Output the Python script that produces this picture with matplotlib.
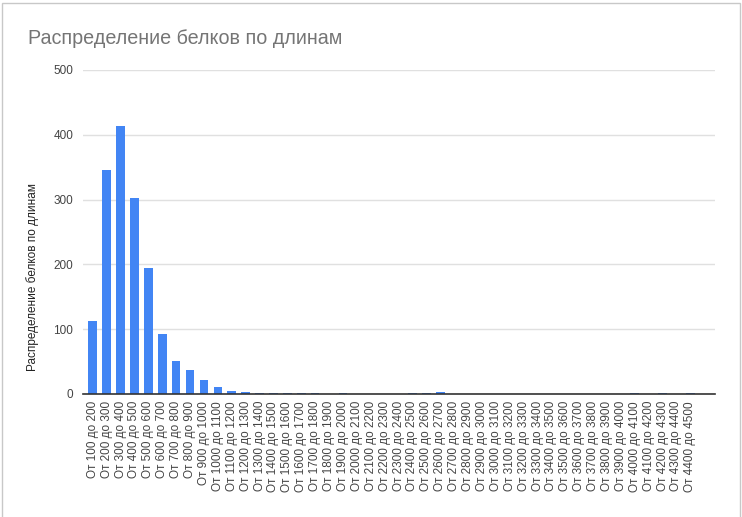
import matplotlib.pyplot as plt
from matplotlib.patches import Rectangle

plt.rcParams['font.family'] = ['Liberation Sans', 'DejaVu Sans']

# bins of protein length, 100 wide, from 100 to 4500
bin_starts = list(range(100, 4500, 100))
labels = ['От %d до %d' % (a, a + 100) for a in bin_starts]
counts = [113, 346, 414, 302, 194, 93, 51, 37, 21, 11,
          4, 3, 2, 2, 1, 1, 1, 0, 1, 0,
          0, 0, 0, 1, 1, 3, 0, 0, 0, 0,
          0, 0, 0, 0, 0, 0, 0, 0, 0, 1,
          0, 1, 0, 2]
title = 'Распределение белков по длинам'
y_ticks = [0, 100, 200, 300, 400, 500]

W, H = 742, 517
fig = plt.figure(figsize=(W / 100, H / 100), dpi=100)
fig.patch.set_facecolor('white')

# chart card border
fig.patches.append(Rectangle((2 / W, -0.01), 738 / W, (H - 3) / H + 0.01,
                             transform=fig.transFigure, fill=False,
                             edgecolor='#c8c8c8', linewidth=1.0))

ax = fig.add_axes([83 / W, (H - 394) / H, 632 / W, 324 / H])
x = list(range(len(counts)))
ax.bar(x, counts, width=0.62, color='#4285F4', zorder=3)

ax.set_xlim(-0.70, 44.77)
ax.set_ylim(0, 500)
ax.set_yticks(y_ticks)
ax.set_yticklabels([str(v) for v in y_ticks], fontsize=8.5, color='#444444')
ax.set_xticks(x)
ax.set_xticklabels(labels, rotation=90, fontsize=8.5, color='#444444')
ax.tick_params(axis='both', length=0)
ax.tick_params(axis='y', pad=7)
ax.tick_params(axis='x', pad=5)

ax.grid(axis='y', color='#e0e0e0', linewidth=1, zorder=0)
for s in ['top', 'right', 'left']:
    ax.spines[s].set_visible(False)
ax.spines['bottom'].set_color('#333333')
ax.spines['bottom'].set_linewidth(1.2)
ax.spines['bottom'].set_zorder(4)

fig.text(33 / W, 1 - 277 / H, title, fontsize=8.5, color='#222222',
         rotation=90, ha='center', va='center')

fig.text(28 / W, 1 - 38 / H, title, fontsize=14.2, color='#757575',
         va='center', ha='left')

fig.savefig('out.png', dpi=100)
